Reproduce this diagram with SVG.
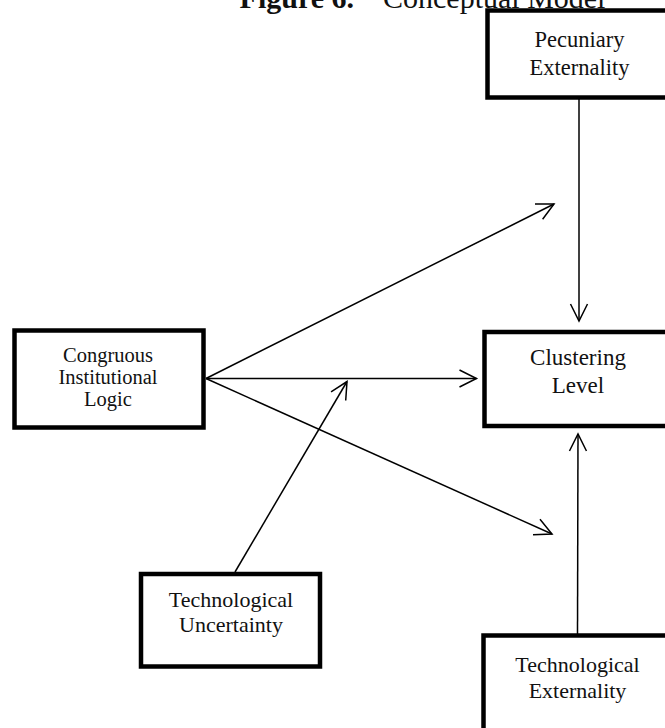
<svg xmlns="http://www.w3.org/2000/svg" width="665" height="728" viewBox="0 0 665 728">
<style>
.box{fill:#fff;stroke:#000;stroke-width:4.5}
.lbl{font-family:"Liberation Serif","Times New Roman",serif;fill:#111;text-anchor:middle}
.ttl{font-family:"Liberation Serif","Times New Roman",serif;fill:#111;font-size:30px}
.con{stroke:#000;stroke-width:1.5;fill:none}
</style>
<defs>
<marker id="ah" markerUnits="userSpaceOnUse" markerWidth="24" markerHeight="24" viewBox="-20 -12 24 24" refX="0" refY="0" orient="auto">
<path d="M-17,-8.5 L0,0 L-17,8.5" fill="none" stroke="#000" stroke-width="1.5"/>
</marker>
</defs>
<rect width="665" height="728" fill="#fff"/>
<g id="title">
<text class="ttl" x="354" y="8" text-anchor="end" font-weight="bold">Figure 6.</text>
<text class="ttl" x="383" y="8">Conceptual Model</text>
</g>
<g id="connectors">
<line class="con" x1="579" y1="99" x2="579" y2="321" marker-end="url(#ah)"/>
<line class="con" x1="577.5" y1="634" x2="578" y2="434" marker-end="url(#ah)"/>
<line class="con" x1="206" y1="378.5" x2="476.5" y2="378.5" marker-end="url(#ah)"/>
<line class="con" x1="206" y1="378.5" x2="554" y2="204" marker-end="url(#ah)"/>
<line class="con" x1="206" y1="378.5" x2="552" y2="534" marker-end="url(#ah)"/>
<line class="con" x1="235" y1="572" x2="347" y2="381.5" marker-end="url(#ah)"/>
</g>
<g id="pecuniary">
<rect class="box" x="487.5" y="10.5" width="190" height="87"/>
<text class="lbl" x="579.5" y="47" font-size="22.5">Pecuniary</text>
<text class="lbl" x="579.5" y="75" font-size="22.5">Externality</text>
</g>
<g id="congruous">
<rect class="box" x="14.5" y="330.5" width="189" height="97"/>
<text class="lbl" x="108" y="362" font-size="20.5">Congruous</text>
<text class="lbl" x="108" y="384" font-size="20.5">Institutional</text>
<text class="lbl" x="108" y="406" font-size="20.5">Logic</text>
</g>
<g id="clustering">
<rect class="box" x="484.5" y="332" width="190" height="94"/>
<text class="lbl" x="578" y="365" font-size="23">Clustering</text>
<text class="lbl" x="578" y="393" font-size="23">Level</text>
</g>
<g id="uncertainty">
<rect class="box" x="141" y="574" width="179" height="92.5"/>
<text class="lbl" x="231" y="607" font-size="22">Technological</text>
<text class="lbl" x="231" y="632" font-size="22">Uncertainty</text>
</g>
<g id="tech-externality">
<rect class="box" x="483.5" y="635.5" width="190" height="110"/>
<text class="lbl" x="577.5" y="672" font-size="22">Technological</text>
<text class="lbl" x="577.5" y="698" font-size="22">Externality</text>
</g>
</svg>
